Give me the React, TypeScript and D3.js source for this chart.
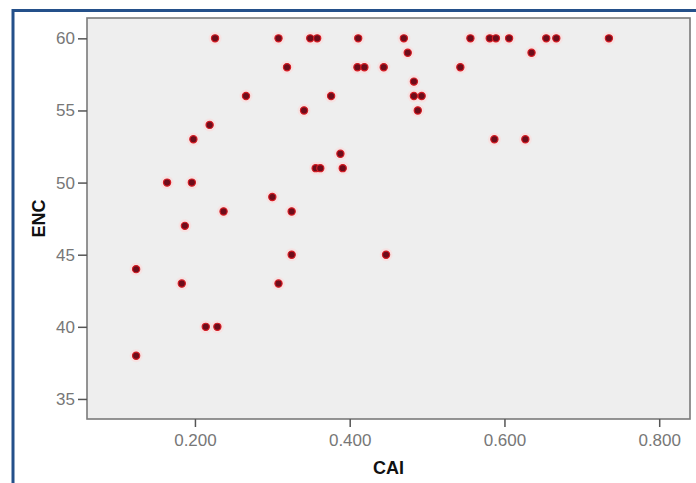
import React, { useEffect, useRef } from "react";
import * as d3 from "d3";

// CAI / ENC pairs (same order in both arrays)
const cai = [
  0.226, 0.308, 0.349, 0.358, 0.411, 0.47, 0.556, 0.581, 0.589, 0.606, 0.654, 0.667, 0.735,
  0.475, 0.635,
  0.319, 0.41, 0.419, 0.444, 0.543,
  0.483,
  0.266, 0.376, 0.483, 0.493,
  0.341, 0.488,
  0.219,
  0.198, 0.587, 0.627,
  0.388,
  0.356, 0.362, 0.391,
  0.164, 0.196,
  0.3,
  0.237, 0.325,
  0.187,
  0.325, 0.447,
  0.124,
  0.183, 0.308,
  0.214, 0.229,
  0.124,
];
const enc = [
  60, 60, 60, 60, 60, 60, 60, 60, 60, 60, 60, 60, 60,
  59, 59,
  58, 58, 58, 58, 58,
  57,
  56, 56, 56, 56,
  55, 55,
  54,
  53, 53, 53,
  52,
  51, 51, 51,
  50, 50,
  49,
  48, 48,
  47,
  45, 45,
  44,
  43, 43,
  40, 40,
  38,
];

const xTicks = [0.2, 0.4, 0.6, 0.8];
const yTicks = [35, 40, 45, 50, 55, 60];
const xTitle = "CAI";
const yTitle = "ENC";

const W = 696;
const H = 483;

const Scatter: React.FC = () => {
  const ref = useRef<SVGSVGElement | null>(null);

  useEffect(() => {
    const svg = d3.select(ref.current);
    svg.selectAll("*").remove();

    const plot = { left: 87, top: 18, right: 690, bottom: 419 };

    const x = d3
      .scaleLinear()
      .domain([0.0605, 0.8398])
      .range([plot.left, plot.right]);
    const y = d3
      .scaleLinear()
      .domain([33.61, 61.41])
      .range([plot.bottom, plot.top]);

    // outer blue frame
    svg
      .append("rect")
      .attr("x", 13)
      .attr("y", 10.5)
      .attr("width", W + 20)
      .attr("height", H + 20)
      .attr("fill", "#ffffff")
      .attr("stroke", "#24508a")
      .attr("stroke-width", 3);

    // plot background
    svg
      .append("rect")
      .attr("x", plot.left)
      .attr("y", plot.top)
      .attr("width", plot.right - plot.left)
      .attr("height", plot.bottom - plot.top)
      .attr("fill", "#eeeeee");

    // points
    const pts = cai.map((c, i) => ({ c, e: enc[i] }));
    const g = svg.append("g");
    g.selectAll("circle.halo")
      .data(pts)
      .join("circle")
      .attr("class", "halo")
      .attr("cx", (d) => x(d.c))
      .attr("cy", (d) => y(d.e))
      .attr("r", 6.5)
      .attr("fill", "#fbdada")
      .attr("opacity", 0.6);
    g.selectAll("circle.dot")
      .data(pts)
      .join("circle")
      .attr("class", "dot")
      .attr("cx", (d) => x(d.c))
      .attr("cy", (d) => y(d.e))
      .attr("r", 3.6)
      .attr("fill", "#6e0c1a")
      .attr("stroke", "#d41a22")
      .attr("stroke-width", 1.2);

    // frame
    svg
      .append("rect")
      .attr("x", plot.left)
      .attr("y", plot.top)
      .attr("width", plot.right - plot.left)
      .attr("height", plot.bottom - plot.top)
      .attr("fill", "none")
      .attr("stroke", "#7a7a7a")
      .attr("stroke-width", 1.6);

    // Y axis
    const ya = svg
      .append("g")
      .attr("transform", `translate(${plot.left},0)`)
      .call(d3.axisLeft(y).tickValues(yTicks).tickSize(9).tickPadding(3));
    ya.select(".domain").remove();
    ya.selectAll("line").attr("stroke", "#555").attr("stroke-width", 1.5);
    ya.selectAll("text")
      .attr("fill", "#777")
      .style("font-family", "'Liberation Sans', Arial, sans-serif")
      .style("font-size", "17px");

    // X axis
    const xa = svg
      .append("g")
      .attr("transform", `translate(0,${plot.bottom})`)
      .call(
        d3
          .axisBottom(x)
          .tickValues(xTicks)
          .tickSize(8)
          .tickPadding(7)
          .tickFormat(d3.format(".3f"))
      );
    xa.select(".domain").remove();
    xa.selectAll("line").attr("stroke", "#555").attr("stroke-width", 1.5);
    xa.selectAll("text")
      .attr("fill", "#777")
      .style("font-family", "'Liberation Sans', Arial, sans-serif")
      .style("font-size", "17px");

    // titles
    svg
      .append("text")
      .attr("x", (plot.left + plot.right) / 2)
      .attr("y", 474)
      .attr("text-anchor", "middle")
      .style("font-family", "'Liberation Sans', Arial, sans-serif")
      .style("font-size", "18px")
      .style("font-weight", "bold")
      .attr("fill", "#111")
      .text(xTitle);

    svg
      .append("text")
      .attr(
        "transform",
        `translate(44.5,${(plot.top + plot.bottom) / 2}) rotate(-90)`
      )
      .attr("text-anchor", "middle")
      .style("font-family", "'Liberation Sans', Arial, sans-serif")
      .style("font-size", "18px")
      .style("font-weight", "bold")
      .attr("fill", "#111")
      .text(yTitle);
  }, []);

  return (
    <svg
      ref={ref}
      width={W}
      height={H}
      style={{ position: "absolute", left: 0, top: 0, display: "block" }}
    />
  );
};

export default function App() {
  return <Scatter />;
}
